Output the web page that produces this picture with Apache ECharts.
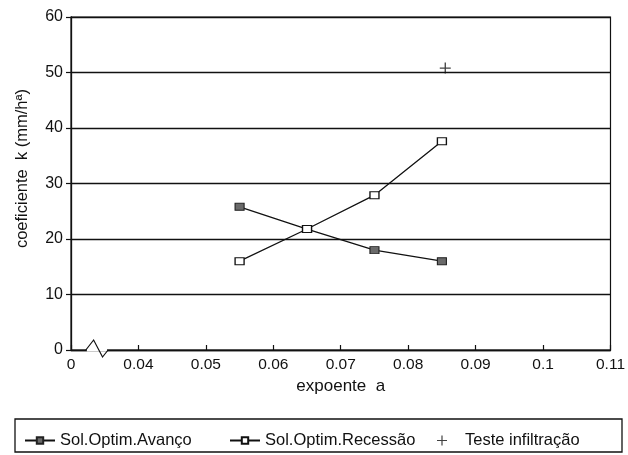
<!DOCTYPE html>
<html>
<head>
<meta charset="utf-8">
<script src="https://cdn.jsdelivr.net/npm/echarts@6/dist/echarts.min.js"></script>
<style>
  html, body { margin: 0; padding: 0; background: #ffffff; }
  #chart { width: 628px; height: 455px; }
</style>
</head>
<body>
<div id="chart"></div>
<script>
// Exponent a on the x axis (axis starts at a break drawn as "0")
const expoentes = [0.055, 0.065, 0.075, 0.085];
const avanco = [25.8, 21.8, 18.0, 16.0];
const recessao = [16.0, 21.8, 27.9, 37.6];
const testeX = [0.0855];
const testeY = [50.8];

const xTicks = { min: 0.03, max: 0.11, step: 0.01 };
const yTicks = { min: 0, max: 60, step: 10 };

const FONT = 'Liberation Sans, Arial, sans-serif';
const plusPath = 'path://M4.4,0H5.6V4.4H10V5.6H5.6V10H4.4V5.6H0V4.4H4.4Z';

const chart = echarts.init(document.getElementById('chart'), null, { renderer: 'canvas' });

const pairs = (xs, ys) => xs.map((x, i) => [x, ys[i]]);

const option = {
  animation: false,
  backgroundColor: '#ffffff',
  grid: {
    left: 71, right: 16, top: 17, bottom: 105,
    show: true, borderColor: '#111', borderWidth: 1.2, backgroundColor: 'transparent'
  },
  xAxis: {
    type: 'value',
    min: xTicks.min, max: xTicks.max, interval: xTicks.step,
    name: 'expoente  a',
    nameLocation: 'middle',
    nameGap: 27,
    nameTextStyle: { fontFamily: FONT, fontSize: 17, color: '#111' },
    axisLine: { lineStyle: { color: '#111', width: 1.3 } },
    axisTick: { inside: true, length: 5, lineStyle: { color: '#111', width: 1.2 } },
    axisLabel: {
      fontFamily: FONT, fontSize: 15.5, color: '#111', margin: 7,
      formatter: v => (Math.abs(v - xTicks.min) < 1e-9 ? '0' : String(parseFloat(v.toFixed(2))))
    },
    splitLine: { show: false }
  },
  yAxis: {
    type: 'value',
    min: yTicks.min, max: yTicks.max, interval: yTicks.step,
    name: 'coeficiente  k (mm/hª)',
    nameLocation: 'middle',
    nameGap: 40,
    nameTextStyle: { fontFamily: FONT, fontSize: 16.5, color: '#111', padding: [0, 0, 0, 30] },
    axisLine: { lineStyle: { color: '#111', width: 1.3 } },
    axisTick: { inside: false, length: 5, lineStyle: { color: '#111', width: 1.2 } },
    axisLabel: { fontFamily: FONT, fontSize: 16, color: '#111', margin: 8 },
    splitLine: { show: true, lineStyle: { color: '#111', width: 1.3 } }
  },
  legend: [
    {
      data: ['Sol.Optim.Avanço'], left: 19, top: 427,
      itemWidth: 30, itemHeight: 8,
      textStyle: { fontFamily: FONT, fontSize: 16.5, color: '#111' }
    },
    {
      data: ['Sol.Optim.Recessão'], left: 224, top: 427,
      itemWidth: 30, itemHeight: 8,
      textStyle: { fontFamily: FONT, fontSize: 16.5, color: '#111' }
    },
    {
      data: ['Teste infiltração'], left: 432, top: 427,
      itemWidth: 10, itemHeight: 10,
      textStyle: { fontFamily: FONT, fontSize: 16.5, color: '#111', padding: [0, 0, 0, 13] }
    }
  ],
  series: [
    {
      name: 'Sol.Optim.Avanço',
      type: 'line',
      data: pairs(expoentes, avanco),
      symbol: 'rect', symbolSize: [9, 7],
      itemStyle: { color: '#6a6a6a', borderColor: '#222', borderWidth: 1 },
      lineStyle: { color: '#111', width: 1.3 }
    },
    {
      name: 'Sol.Optim.Recessão',
      type: 'line',
      data: pairs(expoentes, recessao),
      symbol: 'rect', symbolSize: [9, 7],
      itemStyle: { color: '#ffffff', borderColor: '#111', borderWidth: 1.2 },
      lineStyle: { color: '#111', width: 1.3 }
    },
    {
      name: 'Teste infiltração',
      type: 'scatter',
      data: pairs(testeX, testeY),
      symbol: plusPath, symbolSize: 11,
      itemStyle: { color: '#111' }
    }
  ]
};

chart.setOption(option);

// Axis break mark on the x axis plus the framed legend box
const [bx0] = chart.convertToPixel({ gridIndex: 0 }, [0.0322, 0]);
const [bx1] = chart.convertToPixel({ gridIndex: 0 }, [0.0355, 0]);
const [, by] = chart.convertToPixel({ gridIndex: 0 }, [0.03, 0]);
const bw = bx1 - bx0;

chart.setOption({
  graphic: [
    {
      type: 'line', z: 100,
      shape: { x1: bx0 + 1, y1: by, x2: bx1 - 1, y2: by },
      style: { stroke: '#ffffff', lineWidth: 3 }
    },
    {
      type: 'polyline', z: 101,
      shape: { points: [[bx0, by], [bx0 + bw * 0.35, by - 10], [bx0 + bw * 0.75, by + 7], [bx1, by]] },
      style: { stroke: '#111', lineWidth: 1.2, fill: null }
    },
    {
      type: 'rect', z: 50,
      shape: { x: 15, y: 419, width: 607, height: 33 },
      style: { stroke: '#111', lineWidth: 1.3, fill: null }
    }
  ]
});
</script>
</body>
</html>
